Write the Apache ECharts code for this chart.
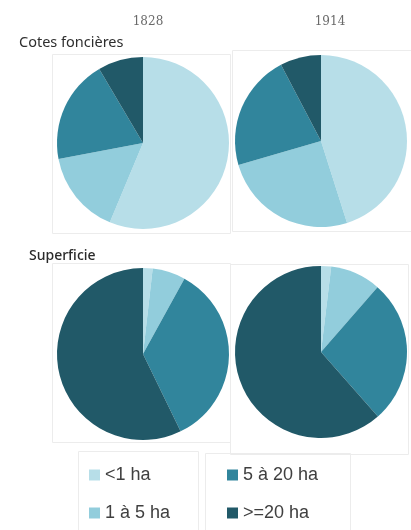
<!DOCTYPE html>
<html>
<head>
<meta charset="utf-8">
<script src="https://cdn.jsdelivr.net/npm/echarts@6/dist/echarts.min.js"></script>
<style>
  html, body { margin: 0; padding: 0; background: #ffffff; }
  #chart { width: 411px; height: 530px; }
</style>
</head>
<body>
<div id="chart"></div>
<script>
// Size classes of land holdings
const classes = ['<1 ha', '1 à 5 ha', '5 à 20 ha', '>=20 ha'];
const classColors = ['#b7dee8', '#92cddc', '#31859c', '#215968'];

// Share (%) of land-tax entries per class
const cotes1828 = [56.3, 15.7, 19.5, 8.5];
const cotes1914 = [45.1, 25.4, 21.8, 7.7];

// Share (%) of surface area per class
const superficie1828 = [1.8, 6.2, 34.8, 57.2];
const superficie1914 = [1.9, 9.5, 27.1, 61.5];

const years = ['1828', '1914'];
const rowTitles = ['Cotes foncières', 'Superficie'];

function toData(values) {
  return values.map((v, i) => ({ name: classes[i], value: v, itemStyle: { color: classColors[i] } }));
}

function pie(id, values, center) {
  return {
    type: 'pie',
    id: id,
    center: center,
    radius: 86,
    startAngle: 90,
    clockwise: true,
    label: { show: false },
    labelLine: { show: false },
    emphasis: { disabled: true },
    itemStyle: { borderWidth: 0 },
    animation: false,
    data: toData(values)
  };
}

const frame = (x, y, w, h) => ({
  type: 'rect',
  shape: { x: x + 0.5, y: y + 0.5, width: w, height: h },
  style: { fill: 'none', stroke: '#ececec', lineWidth: 1 },
  silent: true
});

const legendText = { fontFamily: 'Liberation Sans', fontSize: 18, color: '#404040' };

const chart = echarts.init(document.getElementById('chart'), null, { renderer: 'canvas' });

chart.setOption({
  backgroundColor: '#ffffff',
  animation: false,
  title: [
    { text: years[0], left: 143, top: 11, textAlign: 'center',
      textStyle: { fontFamily: 'DejaVu Serif', fontSize: 12, fontWeight: 'normal', color: '#6a6a6a' } },
    { text: years[1], left: 325, top: 11, textAlign: 'center',
      textStyle: { fontFamily: 'DejaVu Serif', fontSize: 12, fontWeight: 'normal', color: '#6a6a6a' } },
    { text: rowTitles[0], left: 14, top: 30,
      textStyle: { fontFamily: 'Noto Sans', fontSize: 14.5, fontWeight: 'normal', color: '#2e2e2e' } },
    { text: rowTitles[1], left: 24, top: 244,
      textStyle: { fontFamily: 'Noto Sans', fontSize: 14, fontWeight: 500, color: '#2a2a2a' } }
  ],
  legend: [
    {
      data: [classes[0], classes[1]],
      orient: 'vertical',
      left: 84, top: 461,
      itemWidth: 11, itemHeight: 11, itemGap: 20,
      icon: 'rect',
      selectedMode: false,
      textStyle: legendText
    },
    {
      data: [classes[2], classes[3]],
      orient: 'vertical',
      left: 222, top: 461,
      itemWidth: 11, itemHeight: 11, itemGap: 20,
      icon: 'rect',
      selectedMode: false,
      textStyle: legendText
    }
  ],
  graphic: [
    frame(52, 54, 178, 179),
    frame(232, 50, 190, 181),
    frame(52, 263, 178, 179),
    frame(230, 264, 178, 190),
    frame(78, 451, 120, 100),
    frame(205, 453, 145, 100)
  ],
  series: [
    pie('cotes-1828', cotes1828, [143, 143]),
    pie('cotes-1914', cotes1914, [321, 141]),
    pie('superficie-1828', superficie1828, [143, 354]),
    pie('superficie-1914', superficie1914, [321, 352])
  ]
});
</script>
</body>
</html>
